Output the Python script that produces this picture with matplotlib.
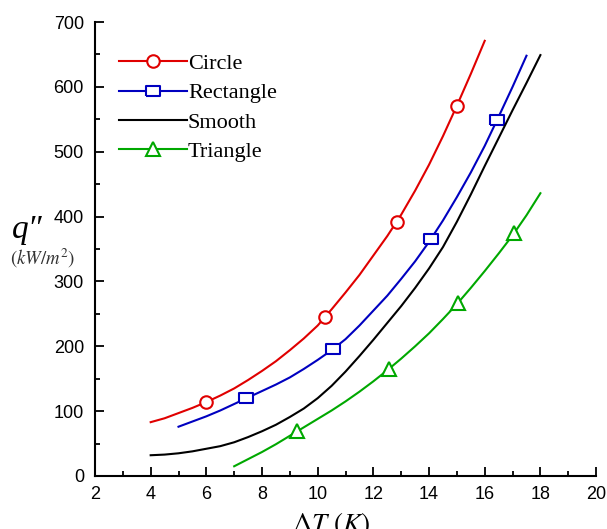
import numpy as np
import matplotlib
matplotlib.use('Agg')
import matplotlib.pyplot as plt

# values (Delta T in K, q'' in kW/m^2)
circle_x = [4, 4.5, 5, 5.5, 6, 6.5, 7, 7.5, 8, 8.5, 9, 9.5, 10, 10.5, 11, 11.5,
            12, 12.5, 13, 13.5, 14, 14.5, 15, 15.5, 16]
circle_y = [83, 89, 97, 105, 114, 124, 135, 148, 162, 177, 194, 212, 232, 257, 283, 310,
            340, 370, 403, 440, 480, 524, 571, 620, 671]
circle_mx = [6.0, 10.26, 12.85, 15.0]
circle_my = [114, 245, 392, 571]

rect_x = [5, 5.5, 6, 6.5, 7, 7.5, 8, 8.5, 9, 9.5, 10, 10.5, 11, 11.5, 12, 12.5,
          13, 13.5, 14, 14.5, 15, 15.5, 16, 16.5, 17, 17.5]
rect_y = [76, 84, 92, 101, 111, 121, 131, 141, 152, 165, 179, 194, 211, 232, 255, 278,
          304, 331, 361, 394, 430, 468, 509, 554, 600, 648]
rect_mx = [7.43, 10.55, 14.07, 16.44]
rect_my = [120, 196, 365, 549]

smooth_x = [4, 4.5, 5, 5.5, 6, 6.5, 7, 7.5, 8, 8.5, 9, 9.5, 10, 10.5, 11, 11.5,
            12, 12.5, 13, 13.5, 14, 14.5, 15, 15.5, 16, 16.5, 17, 17.5, 18]
smooth_y = [32, 33, 35, 38, 42, 46, 52, 60, 69, 79, 91, 104, 120, 139, 161, 185,
            210, 236, 262, 290, 320, 353, 392, 434, 478, 521, 564, 606, 649]

tri_x = [7, 7.5, 8, 8.5, 9, 9.5, 10, 10.5, 11, 11.5, 12, 12.5, 13, 13.5, 14, 14.5,
         15, 15.5, 16, 16.5, 17, 17.5, 18]
tri_y = [15, 26, 37, 49, 62, 75, 88, 101, 115, 130, 146, 163, 181, 200, 220, 242,
         265, 290, 316, 343, 371, 402, 436]
tri_mx = [9.26, 12.56, 15.04, 17.06]
tri_my = [69, 165, 267, 375]

labels = ['Circle', 'Rectangle', 'Smooth', 'Triangle']
colors = ['#e00000', '#0000c0', '#000000', '#00a800']

plt.rcParams['mathtext.fontset'] = 'stix'
fig = plt.figure(figsize=(6.07, 5.29), dpi=100)
ax = fig.add_axes([0.1565, 0.1002, 0.8255, 0.8582])

rect_marker = [(-1, -0.72), (1, -0.72), (1, 0.72), (-1, 0.72), (-1, -0.72)]

lw = 1.5
ax.plot(circle_x, circle_y, color=colors[0], lw=lw)
ax.plot(circle_mx, circle_my, ls='none', marker='o', ms=9, mfc='white', mec=colors[0], mew=1.5)
ax.plot(rect_x, rect_y, color=colors[1], lw=lw)
ax.plot(rect_mx, rect_my, ls='none', marker=rect_marker, ms=10, mfc='white', mec=colors[1], mew=1.5)
ax.plot(smooth_x, smooth_y, color=colors[2], lw=lw)
ax.plot(tri_x, tri_y, color=colors[3], lw=lw)
ax.plot(tri_mx, tri_my, ls='none', marker='^', ms=10, mfc='white', mec=colors[3], mew=1.5)

# legend handles (line with a marker in the middle)
h1, = ax.plot([], [], color=colors[0], lw=lw, marker='o', ms=9, mfc='white', mec=colors[0], mew=1.5)
h2, = ax.plot([], [], color=colors[1], lw=lw, marker=rect_marker, ms=10, mfc='white', mec=colors[1], mew=1.5)
h3, = ax.plot([], [], color=colors[2], lw=lw)
h4, = ax.plot([], [], color=colors[3], lw=lw, marker='^', ms=10, mfc='white', mec=colors[3], mew=1.5)
leg = ax.legend([h1, h2, h3, h4], labels, loc='upper left', bbox_to_anchor=(0.008, 0.975),
                frameon=False, numpoints=1, handlelength=3.05, handletextpad=0.05,
                labelspacing=0.4, prop={'family': 'Liberation Serif', 'size': 16})

ax.set_xlim(2, 20)
ax.set_ylim(0, 700)
ax.set_xticks(np.arange(2, 21, 2))
ax.set_xticks(np.arange(3, 20, 2), minor=True)
ax.set_yticks(np.arange(0, 701, 100))
ax.set_yticks(np.arange(50, 700, 100), minor=True)
for s in ['top', 'right']:
    ax.spines[s].set_visible(False)
for s in ['left', 'bottom']:
    ax.spines[s].set_linewidth(1.5)
ax.tick_params(which='both', direction='in', width=1.3, labelsize=13)
ax.tick_params(which='major', length=6.5)
ax.tick_params(which='minor', length=3.5)
ax.tick_params(axis='x', pad=7)
ax.tick_params(axis='y', pad=8)
for t in ax.get_xticklabels() + ax.get_yticklabels():
    t.set_fontfamily('Liberation Sans')

fig.text(0.045, 0.565, "q″", fontsize=24, family='Liberation Serif', style='italic',
         ha='center', va='center')
fig.text(0.07, 0.512, r"$(kW/m^2)$", fontsize=13.5, ha='center', va='center', color='#333333')
fig.text(0.545, -0.018, r"$\Delta T\ (K)$", fontsize=19.5, ha='center', va='bottom')

fig.savefig('out.png', dpi=100)
